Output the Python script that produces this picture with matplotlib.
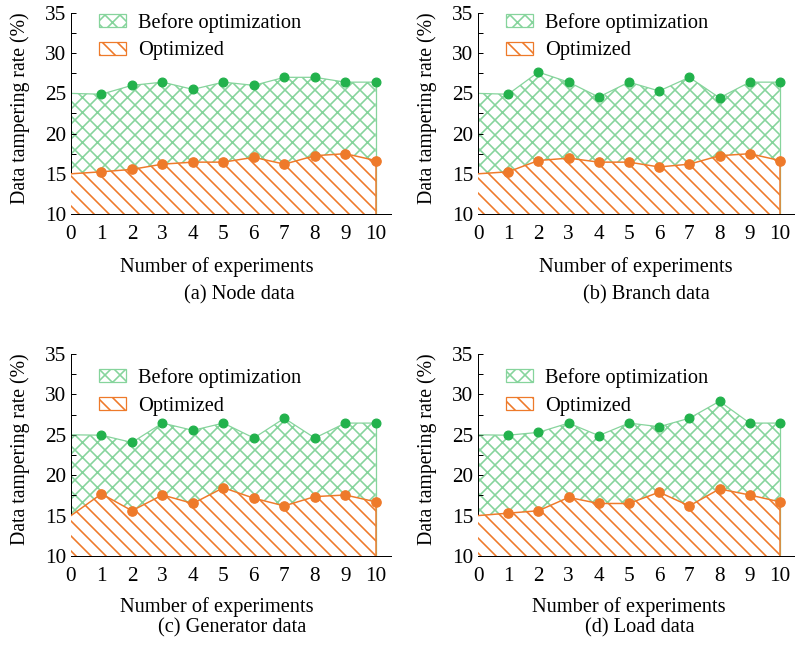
import numpy as np
import matplotlib
matplotlib.use("Agg")
import matplotlib.pyplot as plt
from matplotlib.patches import Patch
from matplotlib.ticker import MultipleLocator

plt.rcParams['font.family'] = ['Liberation Serif', 'DejaVu Serif']
plt.rcParams['hatch.linewidth'] = 1.3

# experiment index (0 is the starting point, no marker)
x = np.arange(0, 11)

# data tampering rate (%)
node_before = [25.0, 24.9, 26.0, 26.4, 25.5, 26.4, 26.0, 27.0, 27.0, 26.4, 26.4]
node_opt = [15.0, 15.25, 15.55, 16.2, 16.45, 16.45, 17.05, 16.2, 17.25, 17.5, 16.65]

branch_before = [25.0, 24.9, 27.65, 26.4, 24.55, 26.4, 25.3, 27.0, 24.45, 26.4, 26.4]
branch_opt = [15.0, 15.25, 16.65, 16.95, 16.45, 16.45, 15.85, 16.2, 17.25, 17.5, 16.65]

gen_before = [25.0, 24.95, 24.05, 26.45, 25.55, 26.45, 24.6, 27.05, 24.6, 26.45, 26.45]
gen_opt = [15.0, 17.7, 15.6, 17.55, 16.5, 18.45, 17.15, 16.2, 17.35, 17.55, 16.7]

load_before = [25.0, 24.95, 25.3, 26.45, 24.9, 26.45, 26.0, 27.05, 29.15, 26.45, 26.45]
load_opt = [15.0, 15.3, 15.6, 17.25, 16.5, 16.5, 17.9, 16.2, 18.3, 17.55, 16.7]

captions = ["(a) Node data", "(b) Branch data", "(c) Generator data", "(d) Load data"]
series = [(node_before, node_opt), (branch_before, branch_opt),
          (gen_before, gen_opt), (load_before, load_opt)]

green = "#22b24c"
light_green = "#86d49c"
orange = "#ee7a2a"
fs = 16.3

W, H = 795, 648
fig = plt.figure(figsize=(W / 90, H / 90), dpi=90)

# axes boxes in pixels: left, top, right, bottom
boxes = [(71, 13, 391, 214), (478, 13, 795, 214),
         (71, 354, 391, 556), (478, 354, 795, 556)]
legend_top = [1.0, 1.0, 0.93, 0.93]
xlabel_pos = [(217, 267), (636, 267), (217, 607), (629, 607)]
caption_pos = [(239, 295), (646, 295), (232, 628), (640, 628)]

for i, (l, t, r, b) in enumerate(boxes):
    ax = fig.add_axes([l / W, 1 - b / H, (r - l) / W, (b - t) / H])
    before, opt = series[i]

    ax.fill_between(x, 10, before, facecolor="white", edgecolor=light_green,
                    hatch="xx", linewidth=0, zorder=1)
    ax.plot(x, before, color=light_green, lw=1.0, zorder=2)
    ax.plot([10, 10], [10, before[-1]], color=light_green, lw=1.0, zorder=2)
    ax.plot(x[1:], before[1:], "o", color=green, ms=7, zorder=5)

    ax.fill_between(x, 10, opt, facecolor="white", edgecolor=orange,
                    hatch="\\\\", linewidth=0, zorder=3)
    ax.plot(x, opt, color=orange, lw=1.2, zorder=4)
    ax.plot([10, 10], [10, opt[-1]], color=orange, lw=1.2, zorder=4)
    ax.plot(x[1:], opt[1:], "o", color=orange, ms=7.5, zorder=5)

    ax.set_xlim(0, 10.5)
    ax.set_ylim(10, 35)
    ax.set_xticks(range(0, 11))
    ax.set_yticks(range(10, 36, 5))
    ax.yaxis.set_minor_locator(MultipleLocator(2.5))
    ax.tick_params(which="both", direction="in", length=4, width=0.8,
                   labelsize=17)
    ax.tick_params(axis="x", pad=9)
    ax.tick_params(axis="y", pad=4)
    ax.spines["top"].set_visible(False)
    ax.spines["right"].set_visible(False)
    ax.set_ylabel("Data tampering rate (%)", fontsize=15.8)
    ax.yaxis.set_label_coords(-41 / (r - l), (b - 108 - (t - 13)) / (b - t))

    handles = [Patch(facecolor="white", edgecolor=light_green, hatch="xx",
                     label="Before optimization"),
               Patch(facecolor="white", edgecolor=orange, hatch="\\\\",
                     label="Optimized")]
    ax.legend(handles=handles, loc="upper left",
              bbox_to_anchor=(0.0875, legend_top[i]), frameon=False,
              fontsize=fs, handlelength=1.32, handleheight=0.6,
              handletextpad=0.59, labelspacing=0.42, borderpad=0,
              borderaxespad=0)

    fig.text(xlabel_pos[i][0] / W, 1 - xlabel_pos[i][1] / H,
             "Number of experiments", fontsize=fs, ha="center", va="center")
    fig.text(caption_pos[i][0] / W, 1 - caption_pos[i][1] / H,
             captions[i], fontsize=fs, ha="center", va="center")

fig.savefig("out.png", dpi=90)
